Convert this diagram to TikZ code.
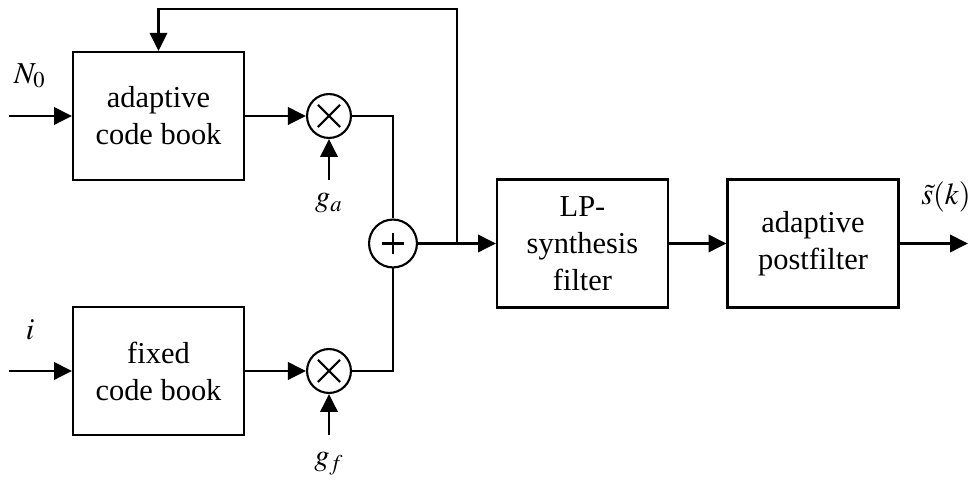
\documentclass[tikz,border=0pt]{standalone}
\usepackage{mathptmx}
\usepackage{fontspec}
\setmainfont{Liberation Serif}
\usetikzlibrary{arrows.meta,positioning,calc}

\begin{document}
\begin{tikzpicture}[x=0.378pt, y=-0.378pt, line width=0.8pt,
  every node/.style={align=center, font=\fontsize{11.5}{14}\selectfont},
  blk/.style={draw, minimum width=64.6pt, minimum height=48.4pt, inner sep=2pt},
  mix/.style={draw, circle, minimum size=16.6pt, inner sep=0pt},
  mul/.style={mix, path picture={
    \draw ([shift={(-4.2pt,-4.2pt)}]path picture bounding box.center) -- ([shift={(4.2pt,4.2pt)}]path picture bounding box.center)
          ([shift={(-4.2pt,4.2pt)}]path picture bounding box.center) -- ([shift={(4.2pt,-4.2pt)}]path picture bounding box.center);}},
  sum/.style={mix, minimum size=18.1pt, path picture={
    \draw ([xshift=-4pt]path picture bounding box.center) -- ([xshift=4pt]path picture bounding box.center)
          ([yshift=-4pt]path picture bounding box.center) -- ([yshift=4pt]path picture bounding box.center);}},
  arr/.style={-{Triangle[length=6.8pt,width=6.6pt]}}]
\useasboundingbox (0,0) rectangle (973,481);
% blocks
\node[blk] (acb) at (158.5,116) {adaptive\\code book};
\node[blk] (fcb) at (158.5,371) {fixed\\code book};
\node[mul] (ma) at (329,116) {};
\node[mul] (mf) at (329,371) {};
\node[sum] (add) at (393,243.5) {};
\node[blk] (lp) at (582.5,243.5) {LP-\\synthesis\\filter};
\node[blk] (pf) at (813,243.5) {adaptive\\postfilter};
% labels
\node (n0) at (30,76) {$N_0$};
\node (idx) at (30,330) {$i$};
\node (gal) at (329,203) {$g_a$};
\node (gfl) at (329,464) {$g_f$};
\node[inner sep=1pt] (sk) at (946,197) {$\tilde{s}(k)$};
% free ends
\coordinate (in1) at (9,116);
\coordinate (in2) at (9,371);
\coordinate (ga) at (329,180);
\coordinate (gf) at (329,435);
\coordinate (jn) at (457,243.5);
\coordinate (fb) at (457,9);
\coordinate (out) at (968,243.5);
% connections
\draw[arr] (in1) -- (acb);
\draw[arr] (in2) -- (fcb);
\draw[arr] (acb) -- (ma);
\draw[arr] (fcb) -- (mf);
\draw[arr] (ga) -- (ma);
\draw[arr] (gf) -- (mf);
\draw (ma) -| (add);
\draw (mf) -| (add);
\draw (add) -- (jn);
\draw[arr] (jn) -- (lp);
\draw[arr] (jn) -- (fb) -| (acb);
\draw[arr] (lp) -- (pf);
\draw[arr] (pf) -- (out);
\end{tikzpicture}
\end{document}
